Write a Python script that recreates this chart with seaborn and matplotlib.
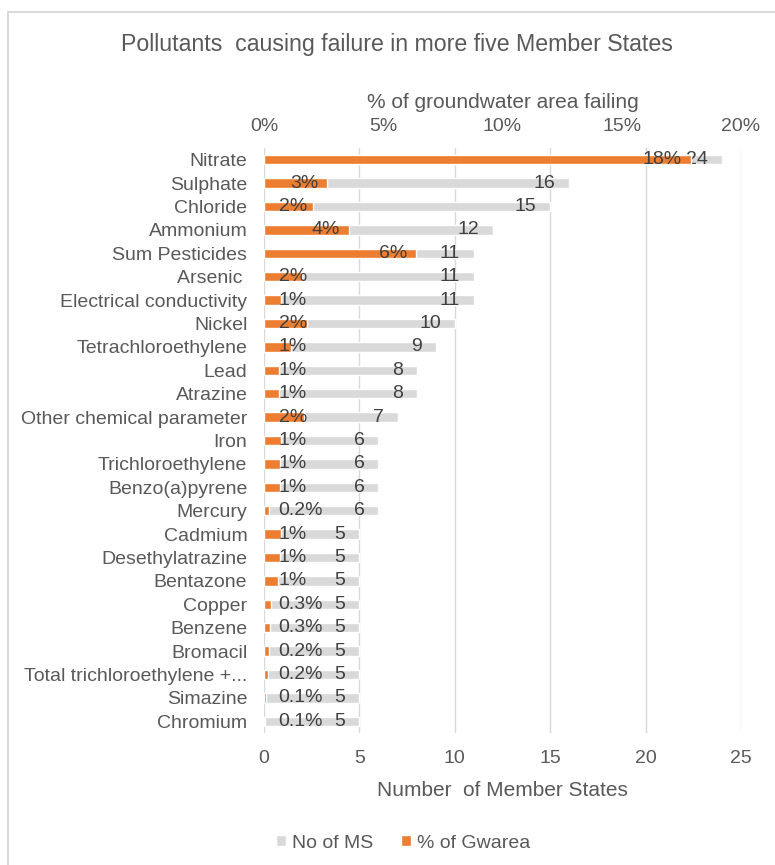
import matplotlib
matplotlib.use('Agg')
import matplotlib.pyplot as plt
import seaborn as sns
import pandas as pd
from matplotlib.patches import Patch
from matplotlib.lines import Line2D

pollutants = ['Nitrate', 'Sulphate', 'Chloride', 'Ammonium', 'Sum Pesticides', 'Arsenic ',
              'Electrical conductivity', 'Nickel', 'Tetrachloroethylene', 'Lead', 'Atrazine',
              'Other chemical parameter', 'Iron', 'Trichloroethylene', 'Benzo(a)pyrene', 'Mercury',
              'Cadmium', 'Desethylatrazine', 'Bentazone', 'Copper', 'Benzene', 'Bromacil',
              'Total trichloroethylene +...', 'Simazine', 'Chromium']
no_of_ms = [24, 16, 15, 12, 11, 11, 11, 10, 9, 8, 8, 7, 6, 6, 6, 6, 5, 5, 5, 5, 5, 5, 5, 5, 5]
pct_gwarea = [17.9, 2.65, 2.05, 3.56, 6.38, 1.6, 0.7, 1.8, 1.14, 0.62, 0.62, 1.66, 0.73,
              0.68, 0.66, 0.21, 0.73, 0.68, 0.58, 0.31, 0.27, 0.21, 0.17, 0.1, 0.06]
ms_ticks = [0, 5, 10, 15, 20, 25]
pct_ticks = [0, 5, 10, 15, 20]

GREY = '#D9D9D9'
ORANGE = '#ED7D31'
TXT = '#595959'
LBL = '#404040'

sns.set_style('white')
plt.rcParams['font.family'] = ['Liberation Sans', 'DejaVu Sans']

df = pd.DataFrame({'pollutant': pollutants, 'ms': no_of_ms, 'pct': pct_gwarea})

W, H = 775, 865
fig = plt.figure(figsize=(W / 100, H / 100), dpi=100)
ax = fig.add_axes([264 / W, 1 - 733 / H, 477 / W, 585 / H])
ax2 = ax.twiny()

sns.barplot(data=df, y='pollutant', x='ms', color=GREY, saturation=1, width=0.4,
            errorbar=None, orient='h', ax=ax)
sns.barplot(data=df, y='pollutant', x='pct', color=ORANGE, saturation=1, width=0.4,
            errorbar=None, orient='h', ax=ax2)

ax.set_xlim(0, 25)
ax.set_xticks(ms_ticks)
ax2.set_xlim(0, 20)
ax2.set_xticks(pct_ticks)
ax2.set_xticklabels([f'{t}%' for t in pct_ticks])

ax.xaxis.grid(True, color=GREY, lw=1)
ax.yaxis.grid(False)
ax.set_axisbelow(True)
for a in (ax, ax2):
    for s in a.spines.values():
        s.set_visible(False)
    a.tick_params(length=0, colors=TXT, labelsize=14)
ax.tick_params(axis='y', pad=12)
ax.tick_params(axis='x', pad=12)
ax2.tick_params(axis='x', pad=9)

ax.set_ylabel('')
ax2.set_ylabel('')
ax.set_xlabel('Number  of Member States', color=TXT, fontsize=15, labelpad=10)
ax2.set_xlabel('% of groundwater area failing', color=TXT, fontsize=15, labelpad=7.5)

# value labels
for i, v in enumerate(no_of_ms):
    ax.annotate(str(v), xy=(v, i), xytext=(-10, 0), textcoords='offset points',
                ha='right', va='center', color=LBL, fontsize=14)
for i, v in enumerate(pct_gwarea):
    txt = f'{v:.0f}%' if v >= 0.5 else f'{v:.1f}%'
    if v >= 2.5:
        ax2.annotate(txt, xy=(v, i), xytext=(-6.5, 0), textcoords='offset points',
                     ha='right', va='center', color=LBL, fontsize=14)
    else:
        ax2.annotate(txt, xy=(0, i), xytext=(10.5, 0), textcoords='offset points',
                     ha='left', va='center', color=LBL, fontsize=14)

fig.text(397 / W, 1 - 44 / H, 'Pollutants  causing failure in more five Member States',
         ha='center', va='center', color=TXT, fontsize=16.7)

handles = [Patch(facecolor=GREY, label='No of MS'), Patch(facecolor=ORANGE, label='% of Gwarea')]
fig.legend(handles=handles, loc='center', bbox_to_anchor=(403 / W, 1 - 843 / H), ncol=2,
           frameon=False, handlelength=0.55, handleheight=0.55, handletextpad=0.3,
           columnspacing=1.4, labelcolor=TXT, fontsize=14)

# chart area border (left and top edges visible)
fig.add_artist(Line2D([8 / W, 8 / W], [0, 1 - 12 / H], color=GREY, lw=1.5))
fig.add_artist(Line2D([8 / W, 1], [1 - 12 / H, 1 - 12 / H], color=GREY, lw=1.5))

fig.savefig('out.png', dpi=100)
